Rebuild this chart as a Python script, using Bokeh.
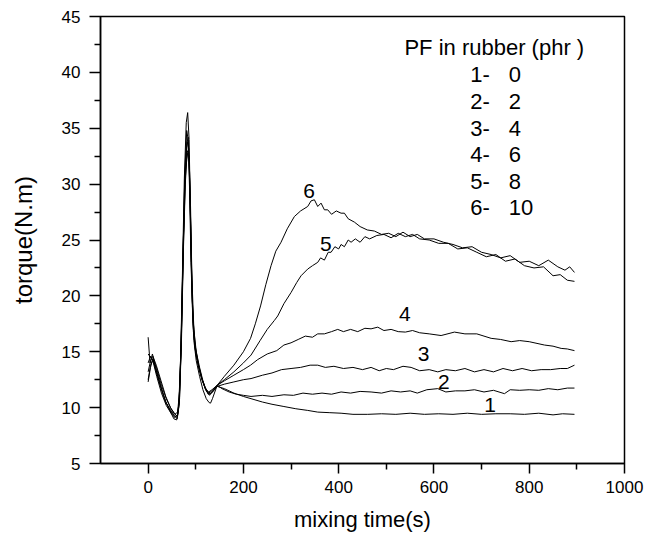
from bokeh.plotting import figure
from bokeh.models import Range1d, FixedTicker
from bokeh.core.properties import value
from bokeh.embed import file_html
from bokeh.resources import INLINE

# ---- data ----
t1 = [0, 5, 10, 18, 28, 38, 48, 56, 62, 66, 70, 74, 78, 82, 85, 88, 91, 95, 100, 107, 114, 121, 128, 135, 145,
      160, 180, 200, 216, 240, 260, 285, 310, 335, 356, 380, 405, 430, 461, 490, 520, 550, 580, 610, 640, 670,
      700, 730, 760, 790, 820, 850, 870, 895]
v1 = [12.3, 13.6, 14.4, 13.5, 12.0, 10.8, 9.9, 9.4, 9.6, 11.5, 17.0, 25.0, 31.0, 33.8, 33.2, 29.0, 22.0, 16.8,
      14.8, 13.4, 12.4, 11.6, 11.2, 11.4, 11.9,
      11.7, 11.3, 11.0, 10.8, 10.5, 10.3, 10.1, 9.9, 9.75, 9.6, 9.55, 9.5, 9.4, 9.4, 9.45, 9.4, 9.5, 9.4, 9.45,
      9.4, 9.5, 9.4, 9.45, 9.45, 9.4, 9.5, 9.35, 9.45, 9.4]

t2 = [0, 5, 10, 17, 27, 37, 47, 55, 61, 65, 69, 73, 77, 81, 84, 87, 90, 94, 99, 106, 113, 120, 127, 134, 145,
      155, 170, 185, 200, 216, 240, 260, 285, 305, 325, 345, 365, 385, 405, 425, 445, 468, 490, 510, 530, 550,
      565, 585, 608, 625, 645, 665, 685, 705, 725, 748, 760, 780, 800, 820, 840, 860, 880, 895]
v2 = [13.2, 14.2, 14.6, 13.8, 12.4, 11.0, 10.0, 9.5, 9.2, 10.5, 15.5, 23.5, 30.5, 33.6, 34.2, 31.0, 24.0, 18.0,
      15.5, 13.8, 12.6, 11.8, 11.3, 11.5, 12.0,
      11.7, 11.4, 11.2, 11.1, 11.0, 11.1, 11.0, 11.15, 11.1, 11.3, 11.2, 11.3, 11.2, 11.4, 11.3, 11.45, 11.4,
      11.3, 11.5, 11.4, 11.5, 11.3, 11.6, 11.7, 11.4, 11.5, 11.5, 11.6, 11.4, 11.55, 11.25, 11.6, 11.55, 11.6,
      11.55, 11.7, 11.6, 11.75, 11.75]

t3 = [0, 4, 9, 16, 26, 36, 46, 54, 60, 64, 68, 72, 76, 80, 83, 86, 89, 93, 98, 105, 112, 119, 126, 133, 145,
      160, 180, 200, 216, 240, 260, 280, 300, 320, 340, 356, 372, 390, 410, 430, 450, 468, 485, 500, 515, 535,
      552, 570, 590, 608, 625, 645, 665, 685, 705, 725, 745, 765, 785, 805, 825, 845, 865, 880, 895]
v3 = [16.3, 14.0, 14.8, 13.6, 12.0, 10.6, 9.7, 9.0, 8.9, 10.0, 14.0, 22.0, 30.5, 35.5, 36.4, 34.0, 27.0, 19.0,
      15.6, 13.9, 12.7, 11.8, 11.2, 11.3, 11.9,
      12.1, 12.3, 12.5, 12.6, 12.9, 13.1, 13.4, 13.5, 13.6, 13.8, 13.8, 13.6, 13.7, 13.5, 13.6, 13.4, 13.6, 13.3,
      13.5, 13.4, 13.7, 13.6, 13.3, 13.4, 13.2, 13.4, 13.3, 13.5, 13.2, 13.4, 13.2, 13.5, 13.3, 13.5, 13.3, 13.4,
      13.4, 13.5, 13.5, 13.8]

t4 = [0, 5, 11, 18, 28, 38, 48, 56, 62, 66, 70, 74, 78, 82, 86, 89, 92, 96, 101, 108, 115, 122, 129, 136, 145,
      160, 180, 200, 215, 230, 250, 270, 285, 300, 315, 330, 345, 356, 370, 385, 398, 410, 425, 440, 455, 468,
      482, 495, 510, 525, 540, 555, 570, 590, 615, 643, 665, 690, 720, 740, 762, 780, 800, 832, 850, 867, 880, 895]
v4 = [14.8, 14.5, 14.2, 13.0, 11.6, 10.4, 9.6, 9.2, 9.3, 10.8, 16.0, 24.0, 30.0, 33.0, 32.5, 28.0, 21.5, 17.0,
      15.0, 13.6, 12.4, 11.5, 11.1, 11.5, 12.0,
      12.4, 12.9, 13.4, 13.8, 14.3, 14.8, 15.1, 15.6, 15.8, 16.1, 16.4, 16.3, 16.6, 16.6, 16.8, 17.0, 16.8, 17.0,
      16.8, 17.1, 17.05, 17.2, 16.9, 17.0, 16.8, 16.76, 16.9, 16.7, 16.6, 16.45, 16.76, 16.6, 16.6, 16.2, 16.1,
      15.9, 16.0, 15.9, 15.6, 15.5, 15.3, 15.25, 15.1]

t5 = [0, 5, 10, 17, 27, 37, 47, 55, 61, 65, 69, 73, 77, 81, 84, 87, 90, 94, 99, 106, 113, 120, 127, 134, 145,
      160, 180, 200, 216, 235, 250, 265, 272, 285, 300, 312, 321, 335, 345, 356, 362, 370, 378, 384, 392, 400,
      405, 412, 420, 426, 435, 445, 455, 465, 480, 495, 510, 525, 540, 555, 570, 590, 610, 630, 650, 670, 690,
      710, 730, 750, 770, 790, 810, 830, 850, 865, 880, 895]
v5 = [12.5, 13.8, 14.3, 13.3, 11.8, 10.5, 9.8, 9.3, 9.0, 10.2, 15.0, 23.0, 31.0, 34.8, 34.0, 29.5, 23.0, 17.5,
      15.2, 13.7, 12.5, 11.7, 11.4, 11.6, 12.0,
      12.5, 13.2, 14.0, 14.7, 16.0, 17.0, 17.8, 18.2, 19.3, 20.3, 21.2, 21.8, 22.4, 22.7, 23.0, 23.4, 23.2, 23.9,
      23.9, 24.4, 24.2, 24.6, 24.4, 25.0, 24.8, 25.1, 24.8, 25.3, 25.1, 25.4, 25.5, 25.2, 25.6, 25.3, 25.5, 25.1,
      25.0, 24.7, 24.7, 24.2, 24.3, 23.9, 23.5, 23.7, 23.1, 23.3, 22.7, 22.5, 22.6, 21.8, 21.9, 21.4, 21.3]

t6 = [0, 5, 11, 18, 28, 38, 48, 56, 62, 66, 70, 74, 78, 82, 86, 89, 92, 96, 101, 108, 115, 122, 128, 131, 135, 145,
      160, 180, 200, 215, 225, 236, 247, 258, 268, 279, 292, 307, 320, 335, 342, 349, 356, 363, 370, 377, 385,
      395, 405, 412, 420, 433, 445, 460, 475, 490, 505, 520, 535, 550, 565, 580, 600, 620, 640, 660, 680, 700,
      720, 740, 760, 780, 800, 820, 840, 860, 875, 885, 895]
v6 = [14.0, 14.6, 14.0, 12.8, 11.3, 10.2, 9.5, 9.1, 9.4, 11.0, 16.5, 24.5, 30.5, 32.8, 32.0, 27.0, 20.5, 16.0,
      14.2, 12.8, 11.6, 10.8, 10.45, 10.4, 10.8, 12.0,
      12.8, 13.8, 15.0, 16.2, 17.5, 19.1, 21.0, 22.7, 24.0, 24.8, 26.0, 27.1, 27.6, 28.0, 28.5, 28.6, 28.0, 28.3,
      27.7, 27.7, 27.3, 27.6, 27.4, 27.4, 26.9, 26.6, 26.2, 25.9, 25.8, 25.5, 25.6, 25.3, 25.7, 25.3, 25.5, 25.1,
      25.1, 24.8, 24.6, 24.3, 24.4, 23.9, 23.7, 23.4, 23.6, 23.0, 23.1, 22.7, 23.2, 22.6, 22.3, 22.6, 22.1]

curve_ids = ["1", "2", "3", "4", "5", "6"]
curve_label_x = [718, 621, 578, 539, 373, 338]
curve_label_y = [10.2, 12.3, 14.8, 18.4, 24.6, 29.4]

legend_title = "PF in rubber (phr )"
legend_nums = ["1-", "2-", "3-", "4-", "5-", "6-"]
legend_vals = ["0", "2", "4", "6", "8", "10"]
legend_title_pos = (538, 42.25)
legend_num_x = 676
legend_val_x = 757
legend_rows_y = [39.77, 37.39, 35.02, 32.64, 30.26, 27.89]

x_major = [0, 200, 400, 600, 800, 1000]
x_minor = [100, 300, 500, 700, 900]
y_major = [5, 10, 15, 20, 25, 30, 35, 40, 45]
y_minor = [7.5, 12.5, 17.5, 22.5, 27.5, 32.5, 37.5, 42.5]

x_title = "mixing time(s)"
y_title = "torque(N.m)"

FONT = "Liberation Sans"

p = figure(width=647, height=534, output_backend="svg", toolbar_location=None,
           x_range=Range1d(-100, 1000), y_range=Range1d(5, 45),
           min_border_left=100, min_border_right=23, min_border_top=16, min_border_bottom=69)
p.grid.visible = False
p.outline_line_color = "black"
p.outline_line_width = 1.5
p.background_fill_color = "white"
p.border_fill_color = "white"

p.xaxis.ticker = FixedTicker(ticks=x_major, minor_ticks=x_minor)
p.yaxis.ticker = FixedTicker(ticks=y_major, minor_ticks=y_minor)

for ax in (p.xaxis, p.yaxis):
    ax.axis_line_width = 1.5
    ax.major_tick_line_width = 1.5
    ax.minor_tick_line_width = 1.5
    ax.major_tick_in = 0
    ax.minor_tick_in = 0
    ax.major_label_text_font = FONT
    ax.major_label_text_font_size = "17px"
    ax.major_label_text_color = "black"
    ax.axis_label_text_font = FONT
    ax.axis_label_text_font_style = "normal"
    ax.axis_label_text_color = "black"

p.xaxis.major_tick_out = 10
p.xaxis.minor_tick_out = 6
p.xaxis.major_label_standoff = 7
p.xaxis.axis_label = x_title
p.xaxis.axis_label_text_font_size = "22px"
p.xaxis.axis_label_standoff = 11

p.yaxis.major_tick_out = 11
p.yaxis.minor_tick_out = 6
p.yaxis.major_label_standoff = 9
p.yaxis.axis_label = y_title
p.yaxis.axis_label_text_font_size = "24px"
p.yaxis.axis_label_standoff = 22

for t, v in [(t1, v1), (t2, v2), (t3, v3), (t4, v4), (t5, v5), (t6, v6)]:
    p.line(t, v, line_color="black", line_width=1.0)

p.text(x=curve_label_x, y=curve_label_y, text=curve_ids, text_font=value(FONT),
       text_font_size="21px", text_align="center", text_baseline="middle", text_color="black")

p.text(x=[legend_title_pos[0]], y=[legend_title_pos[1]], text=[legend_title], text_font=value(FONT),
       text_font_size="22px", text_align="left", text_baseline="middle", text_color="black")
p.text(x=[legend_num_x] * len(legend_nums), y=legend_rows_y, text=legend_nums, text_font=value(FONT),
       text_font_size="22px", text_align="left", text_baseline="middle", text_color="black")
p.text(x=[legend_val_x] * len(legend_vals), y=legend_rows_y, text=legend_vals, text_font=value(FONT),
       text_font_size="22px", text_align="left", text_baseline="middle", text_color="black")

open("out.html", "w").write(file_html(p, INLINE))
